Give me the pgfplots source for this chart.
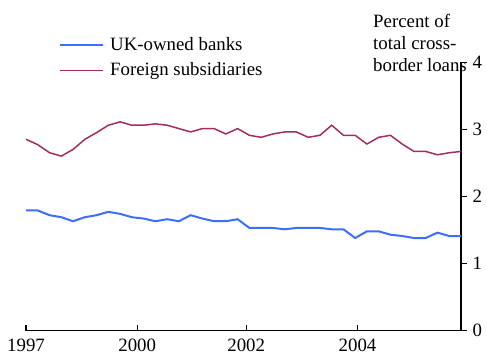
\documentclass[border=0pt]{standalone}
\usepackage{pgfplots}
\pgfplotsset{compat=1.18}
\usepackage{fontspec}
\setmainfont{Liberation Serif}
\definecolor{ukblue}{RGB}{60,110,255}
\definecolor{forred}{RGB}{160,45,100}
\pgfplotstableread{
i uk foreign
0 1.79 2.85
1 1.79 2.77
2 1.72 2.65
3 1.69 2.60
4 1.63 2.70
5 1.69 2.85
6 1.72 2.95
7 1.77 3.06
8 1.74 3.11
9 1.69 3.06
10 1.67 3.06
11 1.63 3.08
12 1.66 3.06
13 1.63 3.01
14 1.72 2.96
15 1.67 3.01
16 1.63 3.01
17 1.63 2.93
18 1.66 3.01
19 1.53 2.91
20 1.53 2.88
21 1.53 2.93
22 1.51 2.96
23 1.53 2.96
24 1.53 2.88
25 1.53 2.91
26 1.51 3.06
27 1.51 2.91
28 1.38 2.91
29 1.48 2.78
30 1.48 2.88
31 1.43 2.91
32 1.41 2.78
33 1.38 2.67
34 1.38 2.67
35 1.46 2.62
36 1.41 2.65
37 1.41 2.67
}\data
\begin{document}
\fontsize{9.4}{11}\selectfont
\begin{tikzpicture}
\begin{axis}[
  scale only axis,
  width=217pt, height=134pt,
  xmin=0, xmax=37, ymin=0, ymax=4,
  axis x line*=bottom, axis y line*=right,
  axis line style={line width=0.8pt},
  xtick={0,9.46,18.73,28.2},
  xticklabels={1997,2000,2002,2004},
  ytick={0,1,2,3,4},
  tick align=inside,
  major tick length=3pt,
  tick style={black, line width=0.6pt},
  ytick style={xshift=3pt},
  /pgf/number format/assume math mode=true,
  tick label style={font=\fontsize{9.4}{11}\selectfont},
  yticklabel style={xshift=2.5pt},
  xticklabel style={yshift=-1pt},
  clip=false,
  legend cell align=left,
  legend style={draw=none, fill=none, at={(axis description cs:0.075,1.11)}, anchor=north west,
    font=\fontsize{9.4}{11}\selectfont, row sep=0.8pt, inner sep=0pt,
    nodes={inner xsep=3pt}},
  legend image code/.code={\draw[#1] (0pt,0pt) -- (21.5pt,0pt);},
]
\addplot[ukblue, line width=1pt] table[x=i, y=uk] {\data};
\addlegendentry{UK-owned banks}
\addplot[forred, line width=0.75pt] table[x=i, y=foreign] {\data};
\addlegendentry{Foreign subsidiaries}
\end{axis}
\node[anchor=north west, align=left, inner sep=0pt, font=\fontsize{9.4}{11}\selectfont]
  at ([shift={(-44pt,24pt)}]current axis.north east) {Percent of\\total cross-\\border loans};
\pgfresetboundingbox
\useasboundingbox ([shift={(-13pt,-13pt)}]current axis.south west) rectangle ([shift={(13pt,31pt)}]current axis.north east);
\end{tikzpicture}
\end{document}
